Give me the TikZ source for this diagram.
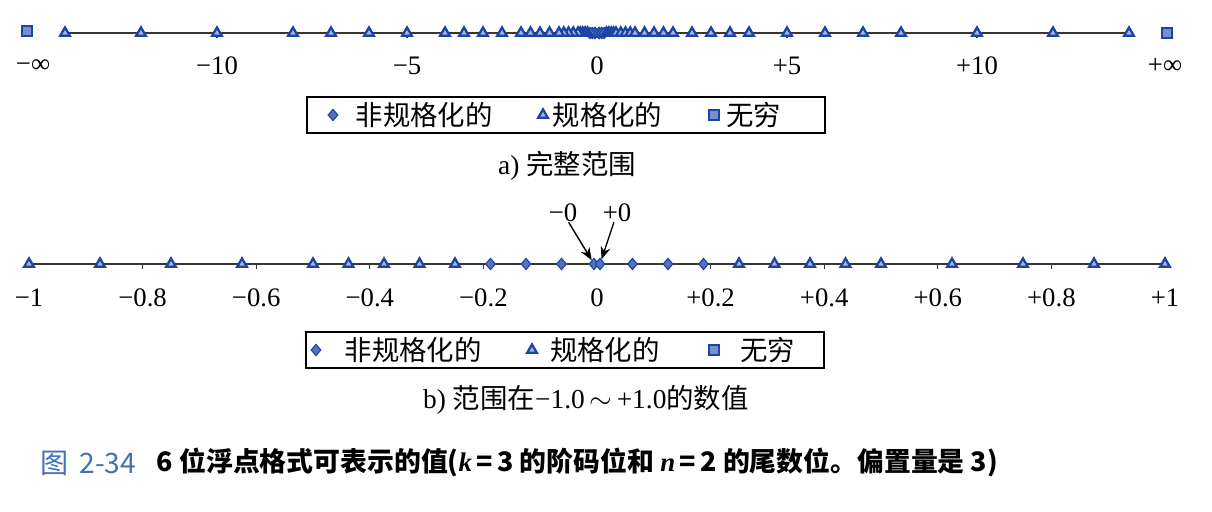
\documentclass[tikz,border=0pt]{standalone}
\usepackage{fontspec}
\setmainfont{Liberation Serif}
\newfontfamily\cjk{Noto Sans CJK SC}
\usepackage{tikz}
\usetikzlibrary{shapes.geometric, arrows.meta, positioning}
\definecolor{fpblue}{HTML}{1C44A6}
\definecolor{fpaxis}{HTML}{3A3633}
\definecolor{fpcap}{HTML}{3F72B8}

\begin{document}
\begin{tikzpicture}[x=0.025cm, y=-0.025cm,
        norm/.style={regular polygon, regular polygon sides=3, draw=fpblue, fill=fpblue!40, line width=1.6pt, inner sep=0pt, minimum size=0.28cm},
        denorm/.style={diamond, draw=fpblue, fill=fpblue!75, line width=0.8pt, inner sep=0pt, minimum width=0.25cm, minimum height=0.29cm},
        infin/.style={rectangle, draw=fpblue, fill=fpblue!60, line width=1.5pt, inner sep=0pt, minimum size=0.24cm},
        axisln/.style={draw=fpaxis, line width=1pt},
        tickln/.style={draw=fpaxis, line width=0.8pt},
        num/.style={font=\fontsize{19pt}{22pt}\selectfont, inner sep=0pt},
        legbox/.style={draw=black, line width=1.1pt, minimum width=12.95cm, minimum height=0.9cm, inner sep=0pt},
        legtxt/.style={font=\cjk\fontsize{19.5pt}{22pt}\selectfont, inner sep=0pt},
        subcap/.style={font=\fontsize{19.5pt}{22pt}\selectfont, inner sep=0pt},
        figcap/.style={font=\cjk\bfseries\fontsize{19.1pt}{22pt}\selectfont, inner sep=0pt, anchor=west},
        ptr/.style={-{Stealth[length=9pt, width=7pt]}, line width=1pt}
    ]
        \useasboundingbox[fill=white] (0,0) rectangle (1212,512);

        % a) full range
        \coordinate (a-l) at (65,33);
        \coordinate (a-r) at (1129,33);
        \draw [axisln] (a-l) -- (a-r);
        \foreach \t in {-10,-5,0,5,10}
            \draw [tickln] ({597+38*\t},33) -- ++(0,5);
        \node (a-dzm) [denorm] at (595,33) {};
        \node (a-dzp) [denorm] at (599,33) {};
        \foreach \v [count=\i] in {0.0625,0.125,0.1875} {
            \node (a-dp\i) [denorm] at ({597+38*\v},33) {};
            \node (a-dm\i) [denorm] at ({597-38*\v},33) {};
        }
        \foreach \v [count=\i] in {0.25,0.3125,0.375,0.4375,0.5,0.625,0.75,0.875,1,1.25,1.5,1.75,2,2.5,3,3.5,4,5,6,7,8,10,12,14} {
            \node (a-np\i) [norm] at ({597+38*\v},33) {};
            \node (a-nm\i) [norm] at ({597-38*\v},33) {};
        }
        \node (a-ninf) [infin] at (27,31) {};
        \node (a-pinf) [infin] at (1167,33) {};
        \foreach \x/\s [count=\i] in {33/−∞, 217/−10, 407/−5, 597/0, 787/+5, 977/+10, 1165/+∞}
            \node (a-lab\i) [num] at (\x,66) {\s};

        % legend a
        \node (lega) [legbox] at (566,115) {};
        \node (la-dn) [denorm] at (333,115) {};
        \node (la-dnt) [legtxt, right=0.42cm of la-dn] {非规格化的};
        \node (la-n) [norm] at (543,115) {};
        \node (la-nt) [legtxt, right=0.12cm of la-n] {规格化的};
        \node (la-i) [infin] at (714,115) {};
        \node (la-it) [legtxt, right=0.15cm of la-i] {无穷};
        \node (capa) [subcap] at (567,166) {a) {\cjk 完整范围}};

        % b) range -1.0 .. +1.0
        \coordinate (b-l) at (29,264);
        \coordinate (b-r) at (1165,264);
        \draw [axisln] (b-l) -- (b-r);
        \foreach \t in {-0.8,-0.6,-0.4,-0.2,0.2,0.4,0.6,0.8}
            \draw [tickln] ({597+568*\t},264) -- ++(0,5);
        \foreach \v [count=\i] in {0.0625,0.125,0.1875} {
            \node (b-dp\i) [denorm] at ({597+568*\v},264) {};
            \node (b-dm\i) [denorm] at ({597-568*\v},264) {};
        }
        \node (b-dzm) [denorm] at (594,264) {};
        \node (b-dzp) [denorm] at (600,264) {};
        \foreach \v [count=\i] in {0.25,0.3125,0.375,0.4375,0.5,0.625,0.75,0.875,1} {
            \node (b-np\i) [norm] at ({597+568*\v},264) {};
            \node (b-nm\i) [norm] at ({597-568*\v},264) {};
        }
        \foreach \v/\s [count=\i] in {-1/−1, -0.8/−0.8, -0.6/−0.6, -0.4/−0.4, -0.2/−0.2, 0/0, 0.2/+0.2, 0.4/+0.4, 0.6/+0.6, 0.8/+0.8, 1/+1}
            \node (b-lab\i) [num] at ({597+568*\v},298) {\s};
        \node (mzero) [num] at (563,213) {−0};
        \node (pzero) [num] at (617,213) {+0};
        \draw [ptr] (mzero) -- (b-dzm);
        \draw [ptr] (pzero) -- (b-dzp);

        % legend b
        \node (legb) [legbox] at (565,350) {};
        \node (lb-dn) [denorm] at (316,350) {};
        \node (lb-dnt) [legtxt, right=0.57cm of lb-dn] {非规格化的};
        \node (lb-n) [norm] at (532,350) {};
        \node (lb-nt) [legtxt, right=0.33cm of lb-n] {规格化的};
        \node (lb-i) [infin] at (714,350) {};
        \node (lb-it) [legtxt, right=0.5cm of lb-i] {无穷};
        \node (capb) [subcap] at (586,400) {b) {\cjk 范围在}−1.0\,$\sim$\,+1.0{\cjk 的数值}};

        % figure caption
        \node (fignum) [figcap, font=\cjk\fontsize{20pt}{23pt}\selectfont, text=fpcap] at (40,463) {图\hspace{0.4em}2-34};
        \node (figtxt) [figcap, right=0.5cm of fignum] {6 位浮点格式可表示的值({\rmfamily\itshape k}\,=\,3 的阶码位和 {\rmfamily\itshape n}\,=\,2 的尾数位。偏置量是 3)};
    \end{tikzpicture}
\end{document}
